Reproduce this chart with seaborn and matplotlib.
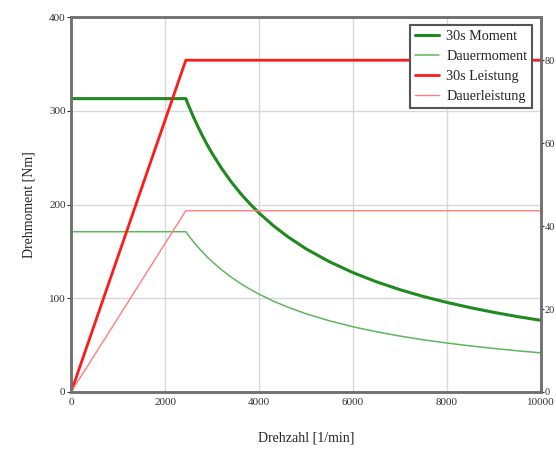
import numpy as np
import pandas as pd
import matplotlib
matplotlib.use('Agg')
import matplotlib.pyplot as plt
import seaborn as sns

# values
drehzahl = [0, 2440, 2500, 2600, 2700, 2800, 2900, 3000, 3200, 3400, 3600, 3800, 4000, 4300,
            4600, 5000, 5500, 6000, 6500, 7000, 7500, 8000, 8500, 9000, 9500, 10000]
moment_30s = [313, 313, 305.5, 293.7, 282.9, 272.8, 263.3, 254.6, 238.7, 224.6, 212.1, 201.0, 190.9, 177.6,
              166.0, 152.7, 138.9, 127.3, 117.5, 109.1, 101.8, 95.5, 89.9, 84.9, 80.4, 76.4]
dauermoment = [171, 171, 166.9, 160.5, 154.5, 149.0, 143.9, 139.1, 130.4, 122.7, 115.9, 109.8, 104.3, 97.0,
               90.7, 83.4, 75.9, 69.5, 64.2, 59.6, 55.6, 52.2, 49.1, 46.4, 43.9, 41.7]
leistung_drehzahl = [0, 2440, 10000]
leistung_30s = [0, 80, 80]
dauerleistung = [0, 43.7, 43.7]

sns.set_style('white')
plt.rcParams['font.family'] = ['Liberation Serif', 'DejaVu Serif']

df_m = pd.DataFrame({'n': drehzahl, 'm30': moment_30s, 'md': dauermoment})
df_p = pd.DataFrame({'n': leistung_drehzahl, 'p30': leistung_30s, 'pd': dauerleistung})

fig = plt.figure(figsize=(5.56, 4.5), dpi=100)
ax = fig.add_axes([0.128, 0.129, 0.845, 0.833])
ax2 = ax.twinx()

c_m30 = '#1f8a1f'
c_md = '#5cb85c'
c_p30 = '#ff1a1a'
c_pd = '#ff7f7f'

sns.lineplot(data=df_m, x='n', y='m30', ax=ax, color=c_m30, lw=2.2, label='30s Moment', legend=False)
sns.lineplot(data=df_m, x='n', y='md', ax=ax, color=c_md, lw=1.1, label='Dauermoment', legend=False)
sns.lineplot(data=df_p, x='n', y='p30', ax=ax2, color=c_p30, lw=2.0, label='30s Leistung', legend=False)
sns.lineplot(data=df_p, x='n', y='pd', ax=ax2, color=c_pd, lw=1.0, label='Dauerleistung', legend=False)

ax.set_xlim(0, 10000)
ax.set_ylim(0, 400)
ax2.set_ylim(0, 90.4)
ax.set_xticks([0, 2000, 4000, 6000, 8000, 10000])
ax.set_yticks([0, 100, 200, 300, 400])
ax2.set_yticks([0, 20, 40, 60, 80])

ax.grid(True, color='#d8d8d8', lw=1)
ax2.grid(False)
ax.set_axisbelow(True)

for a in (ax, ax2):
    for s in a.spines.values():
        s.set_color('#707070')
        s.set_linewidth(1.8)
    a.tick_params(labelsize=8, colors='#333333', length=3, width=0.8, pad=1)
ax2.tick_params(labelsize=7.5, length=2, pad=0.5)

ax.set_xlabel('Drehzahl [1/min]', fontsize=10, labelpad=18)
ax.set_ylabel('Drehmoment [Nm]', fontsize=10, labelpad=10)
ax2.set_ylabel('')

h1, l1 = ax.get_legend_handles_labels()
h2, l2 = ax2.get_legend_handles_labels()
leg = ax2.legend(h1 + h2, l1 + l2, loc='upper right', bbox_to_anchor=(0.981, 0.979),
                 borderaxespad=0, fontsize=10.2, fancybox=False, framealpha=1, edgecolor='#555555',
                 handlelength=1.7, borderpad=0.35, labelspacing=0.5, handletextpad=0.5)
leg.get_frame().set_linewidth(1.5)

fig.savefig('out.png', dpi=100)
